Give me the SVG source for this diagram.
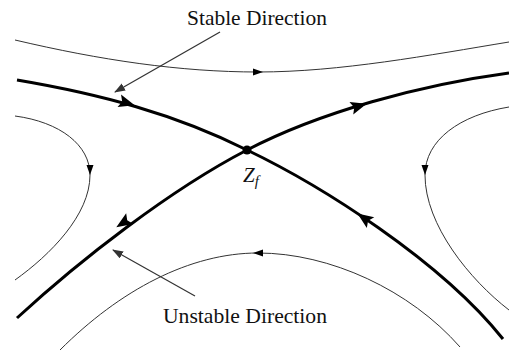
<svg xmlns="http://www.w3.org/2000/svg" xmlns:xlink="http://www.w3.org/1999/xlink" width="509" height="356" viewBox="0 0 509 356">
<style>
.thin{fill:none;stroke:#333;stroke-width:1}
.thick{fill:none;stroke:#000;stroke-width:3;stroke-linecap:butt}
.ptr{fill:none;stroke:#333;stroke-width:1.2}
.lbl{font-family:"Liberation Serif","Times New Roman",serif;font-size:21px;fill:#111}
.zf{font-family:"Liberation Serif","Times New Roman",serif;font-style:italic;font-size:21px;fill:#111}
.ah{fill:#000}
</style>
<defs>
<path id="big" d="M8,0 L-8,-6.5 L-5,0 L-8,6.5 Z"/>
<path id="small" d="M5,0 L-5,-3.5 L-5,3.5 Z"/>
<marker id="pa" markerWidth="12" markerHeight="10" refX="10" refY="4" orient="auto" markerUnits="userSpaceOnUse">
<path d="M0,0 L11,4 L0,8 Z" fill="#333"/>
</marker>
</defs>
<rect width="509" height="356" fill="#fff"/>
<g id="trajectories">
<g id="top-orbit">
<path class="thin" d="M15,40 C100,60 180,72 258,72 C340,72 430,55 509,42"/>
<use href="#small" class="ah" transform="translate(258,72)"/>
</g>
<g id="left-orbit">
<path class="thin" d="M15,116 C60,122 90,145 90,175 C90,215 50,255 15,280"/>
<use href="#small" class="ah" transform="translate(90,170) rotate(90)"/>
</g>
<g id="right-orbit">
<path class="thin" d="M509,107 C460,115 425,140 425,175 C425,225 470,280 509,310"/>
<use href="#small" class="ah" transform="translate(425,170) rotate(90)"/>
</g>
<g id="bottom-orbit">
<path class="thin" d="M60,350 C120,290 190,253 258,253 C330,253 410,290 460,347"/>
<use href="#small" class="ah" transform="translate(258,253) rotate(180)"/>
</g>
<g id="stable-manifold">
<path class="thick" d="M17,80 C100,94 175,114 247,150 C320,185 440,260 503,339"/>
<use href="#big" class="ah" transform="translate(127,103) rotate(15.6)"/>
<use href="#big" class="ah" transform="translate(364,218) rotate(215)"/>
</g>
<g id="unstable-manifold">
<path class="thick" d="M17,318 C80,260 170,190 247,150 C320,112 420,85 509,73"/>
<use href="#big" class="ah" transform="translate(123,223) rotate(147)"/>
<use href="#big" class="ah" transform="translate(359,106) rotate(-17)"/>
</g>
</g>
<g id="fixed-point">
<circle cx="247" cy="150" r="4.5" fill="#000"/>
<text class="zf" x="243" y="182">Z<tspan font-size="15" dy="4">f</tspan></text>
</g>
<g id="stable-label">
<text class="lbl" x="257" y="25" text-anchor="middle" textLength="140" lengthAdjust="spacingAndGlyphs">Stable Direction</text>
</g>
<g id="unstable-label">
<text class="lbl" x="245" y="323" text-anchor="middle" textLength="164" lengthAdjust="spacingAndGlyphs">Unstable Direction</text>
</g>
<g id="connectors">
<line class="ptr" x1="220" y1="32" x2="115" y2="92" marker-end="url(#pa)"/>
<line class="ptr" x1="195" y1="296" x2="113" y2="250" marker-end="url(#pa)"/>
</g>
</svg>
